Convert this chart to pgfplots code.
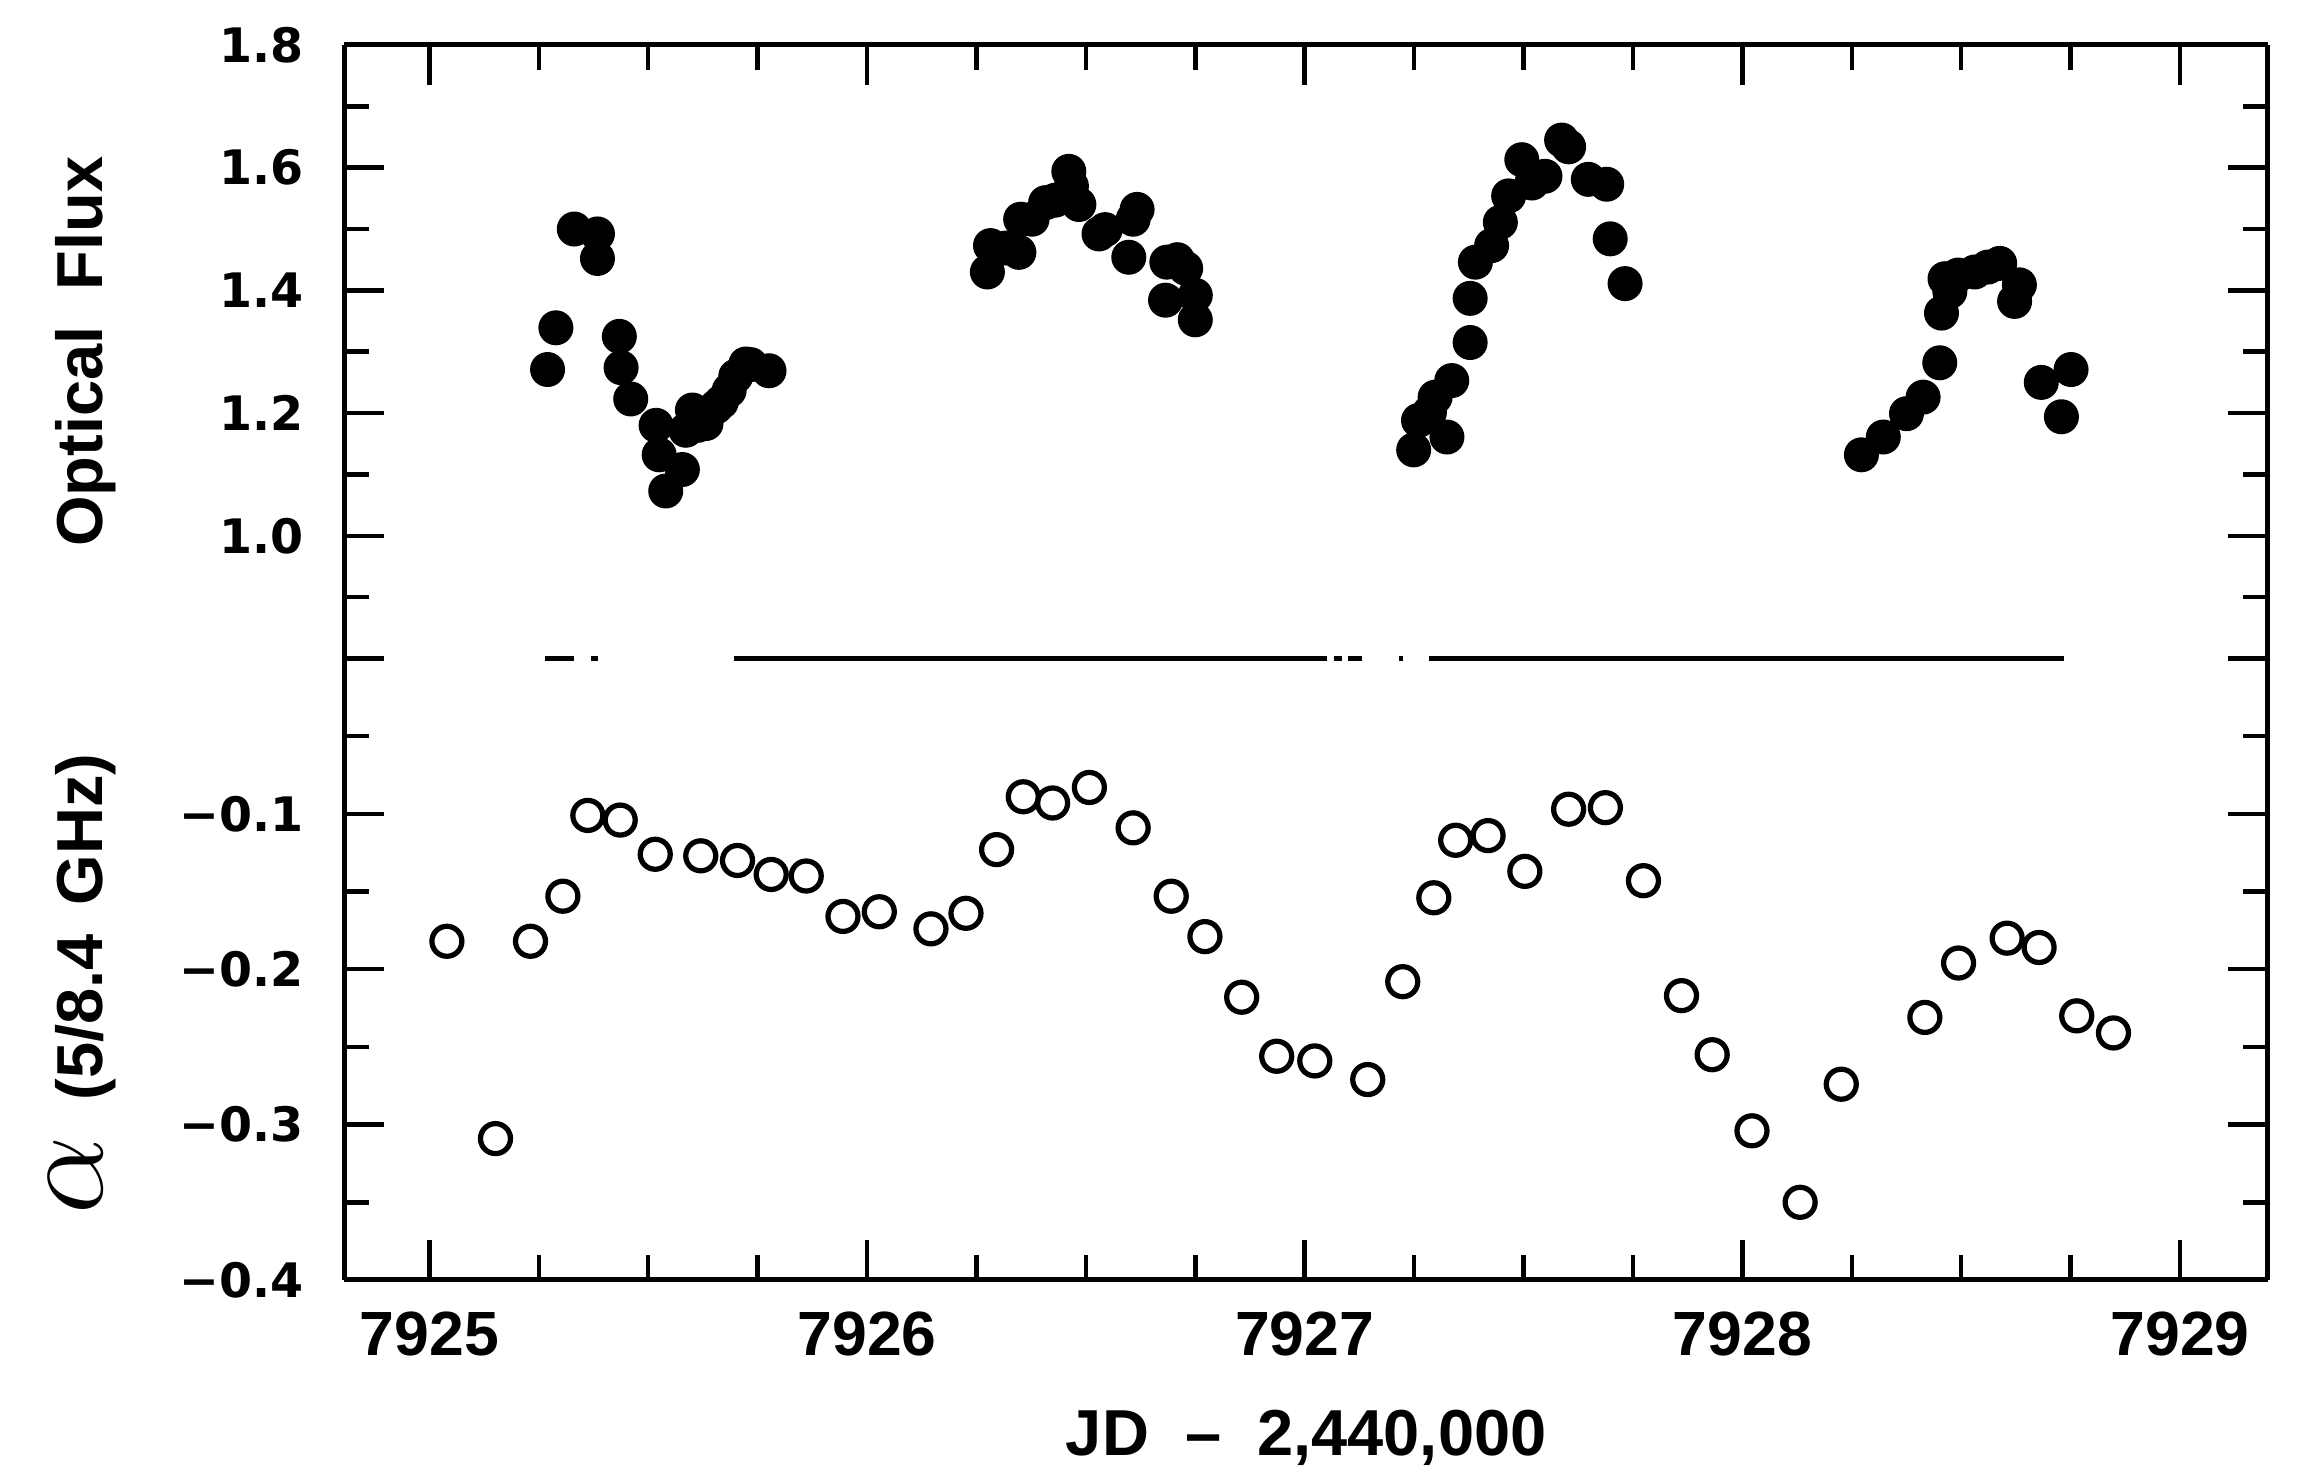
\documentclass[border=0pt]{standalone}
\usepackage{fontspec}
\setmainfont{Liberation Sans}
\newfontfamily\tickfont{DejaVu Sans}
\usepackage{pgfplots}
\pgfplotsset{compat=1.18}
\begin{document}
\begin{tikzpicture}
\pgfplotsset{
  common/.style={
    scale only axis, width=384.7pt,
    xmin=7924.806, xmax=7929.201,
    xtick={7925,7926,7927,7928,7929},
    minor x tick num=3,
    tick align=inside,
    major tick length=8pt, minor tick length=5pt,
    axis line style={line width=1pt},
    every tick/.style={black, line width=0.9pt},
    ytick pos=both,
    yticklabel style={font=\tickfont\bfseries\fontsize{9.5}{10}\selectfont, xshift=-4.6pt},
    xticklabel style={font=\bfseries\fontsize{12.5}{13}\selectfont, yshift=-2.8pt},
    ylabel style={anchor=base, font=\bfseries\fontsize{13}{14}\selectfont},
    xlabel style={anchor=base, font=\bfseries\fontsize{13}{14}\selectfont},
  }
}
% bottom panel: spectral index
\begin{axis}[common, at={(0,0)}, anchor=south west, height=124.3pt,
  ymin=-0.4, ymax=0,
  ytick={-0.4,-0.3,-0.2,-0.1,0},
  yticklabels={−0.4,−0.3,−0.2,−0.1,{}},
  minor y tick num=1,
  axis x line*=bottom, xtick pos=left,
  xticklabels={7925,7926,7927,7928,7929},
  xlabel={JD \ – \ 2,440,000},
  xlabel style={at={(axis description cs:0.5,-0.2816)}},
  ylabel={{\fontsize{26}{26}\selectfont$\alpha$}\ \ (5/8.4\ \,GHz)},
  ylabel style={at={(axis description cs:-0.1256,0.476)}},
]
\addplot[only marks, mark=o, mark size=3.0pt, mark options={line width=1.05pt, black}] coordinates {
(7925.040,-0.182) (7925.151,-0.309) (7925.231,-0.182) (7925.305,-0.153)
(7925.362,-0.101) (7925.436,-0.104) (7925.516,-0.126) (7925.620,-0.127)
(7925.704,-0.130) (7925.781,-0.139) (7925.861,-0.140) (7925.945,-0.166)
(7926.028,-0.163) (7926.146,-0.174) (7926.226,-0.164) (7926.296,-0.123)
(7926.357,-0.089) (7926.424,-0.093) (7926.508,-0.083) (7926.608,-0.109)
(7926.695,-0.153) (7926.772,-0.179) (7926.856,-0.218) (7926.936,-0.256)
(7927.023,-0.259) (7927.144,-0.271) (7927.224,-0.208) (7927.295,-0.154)
(7927.345,-0.117) (7927.419,-0.114) (7927.503,-0.137) (7927.603,-0.097)
(7927.687,-0.096) (7927.774,-0.143) (7927.861,-0.217) (7927.931,-0.255)
(7928.022,-0.304) (7928.132,-0.350) (7928.226,-0.274) (7928.417,-0.231)
(7928.494,-0.196) (7928.605,-0.180) (7928.678,-0.186) (7928.764,-0.230)
(7928.848,-0.241)
};
\end{axis}
% top panel: optical flux
\begin{axis}[common, at={(0,124.3pt)}, anchor=south west, height=122.7pt,
  ymin=0.8, ymax=1.8,
  ytick={0.8,1.0,1.2,1.4,1.6,1.8},
  yticklabels={{},1.0,1.2,1.4,1.6,1.8},
  minor y tick num=1,
  axis x line*=top, xtick pos=right,
  xticklabels={{},{},{},{},{}},
  ylabel={Optical\ \ Flux},
  ylabel style={at={(axis description cs:-0.1256,0.5)}},
  clip=false,
]
\addplot[black, line width=1.1pt, unbounded coords=jump] coordinates {
(7925.265,0.8) (7925.330,0.8) (7925.330,nan)
(7925.370,0.8) (7925.385,0.8) (7925.385,nan)
(7925.695,0.8) (7927.050,0.8) (7927.050,nan)
(7927.068,0.8) (7927.085,0.8) (7927.085,nan)
(7927.100,0.8) (7927.130,0.8) (7927.130,nan)
(7927.215,0.8) (7927.225,0.8) (7927.225,nan)
(7927.285,0.8) (7928.735,0.8)
};
\addplot[only marks, mark=*, mark size=3.3pt, mark options={black, fill=black}] coordinates {
(7925.270,1.271) (7925.289,1.339) (7925.331,1.500) (7925.384,1.492)
(7925.384,1.452) (7925.434,1.325) (7925.438,1.274) (7925.460,1.223)
(7925.518,1.180) (7925.525,1.132) (7925.540,1.073) (7925.578,1.108)
(7925.586,1.172) (7925.601,1.205) (7925.613,1.180) (7925.632,1.183)
(7925.655,1.210) (7925.667,1.218) (7925.685,1.237) (7925.700,1.260)
(7925.723,1.280) (7925.734,1.279) (7925.776,1.269)
(7926.275,1.430) (7926.282,1.473) (7926.317,1.469) (7926.347,1.462)
(7926.351,1.516) (7926.377,1.516) (7926.408,1.543) (7926.430,1.547)
(7926.461,1.594) (7926.467,1.570) (7926.484,1.540) (7926.530,1.492)
(7926.544,1.499) (7926.598,1.454) (7926.608,1.516) (7926.617,1.532)
(7926.682,1.384) (7926.685,1.446) (7926.709,1.450) (7926.728,1.436)
(7926.750,1.392) (7926.750,1.352)
(7927.249,1.140) (7927.260,1.188) (7927.285,1.201) (7927.298,1.226)
(7927.325,1.161) (7927.336,1.253) (7927.378,1.315) (7927.378,1.387)
(7927.390,1.446) (7927.427,1.473) (7927.447,1.511) (7927.466,1.554)
(7927.496,1.613) (7927.519,1.575) (7927.549,1.586) (7927.587,1.645)
(7927.603,1.634) (7927.648,1.581) (7927.690,1.573) (7927.698,1.484)
(7927.732,1.411)
(7928.272,1.132) (7928.322,1.161) (7928.375,1.199) (7928.413,1.226)
(7928.451,1.282) (7928.455,1.363) (7928.463,1.419) (7928.474,1.398)
(7928.493,1.425) (7928.531,1.430) (7928.561,1.438) (7928.588,1.444)
(7928.622,1.382) (7928.633,1.409) (7928.683,1.250) (7928.729,1.194)
(7928.751,1.271)
};
\end{axis}
\pgfresetboundingbox
\path (-68.9pt,-40.6pt) rectangle (391.3pt,256pt);
\end{tikzpicture}
\end{document}
